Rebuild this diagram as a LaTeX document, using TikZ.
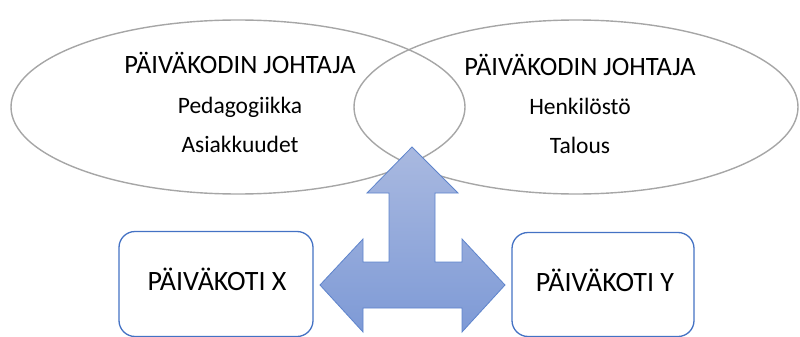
\documentclass[tikz,border=0pt]{standalone}
\usepackage{fontspec}
\setmainfont{Carlito}
\usetikzlibrary{shapes.geometric}
\definecolor{ellgray}{HTML}{A6A6A6}
\definecolor{boxblue}{HTML}{4472C4}
\definecolor{arrtop}{HTML}{A9B9E0}
\definecolor{arrbot}{HTML}{7E9AD6}
\definecolor{arredge}{HTML}{5E84CC}
\tikzset{
  ell/.style={draw=ellgray, line width=1.4pt, ellipse, inner sep=0pt},
  unitbox/.style={draw=boxblue, line width=1.3pt, rounded corners=16pt, fill=white},
  lbl/.style={font=\fontsize{23.5}{26}\selectfont, text=black, anchor=base, inner sep=0pt},
  ttl/.style={font=\fontsize{26.5}{30}\selectfont, text=black, anchor=base, inner sep=0pt},
  boxttl/.style={font=\fontsize{28}{32}\selectfont, text=black, anchor=base, inner sep=0pt},
}
\begin{document}
\begin{tikzpicture}[x=1pt,y=-1pt]
\useasboundingbox (0,0) rectangle (800,337);
\node[ell, minimum width=454pt, minimum height=174pt] (le) at (238,107) {};
\node[ell, minimum width=444pt, minimum height=174pt] (re) at (576,107) {};
\node[ttl] (lt) at (240,74) {PÄIVÄKODIN JOHTAJA};
\node[lbl] (l1) at (240,113) {Pedagogiikka};
\node[lbl] (l2) at (240,152) {Asiakkuudet};
\node[ttl] (rt) at (580,75) {PÄIVÄKODIN JOHTAJA};
\node[lbl] (r1) at (580,114) {Henkilöstö};
\node[lbl] (r2) at (580,153) {Talous};
\draw[arredge, line width=0.8pt, top color=arrtop, bottom color=arrbot]
  (412,147) -- (458,193) -- (435,193) -- (435,262) -- (462,262) -- (462,239)
  -- (505,285) -- (462,332) -- (462,308) -- (363,308) -- (363,332)
  -- (320,285) -- (363,239) -- (363,262) -- (389,262) -- (389,193)
  -- (367,193) -- cycle;
\node[unitbox, minimum width=194pt, minimum height=105pt] (bx) at (216,284) {};
\node[unitbox, minimum width=182pt, minimum height=104pt] (by) at (603,284.5) {};
\node[boxttl] (tx) at (217,290) {PÄIVÄKOTI X};
\node[boxttl] (ty) at (605,291) {PÄIVÄKOTI Y};
\end{tikzpicture}
\end{document}
